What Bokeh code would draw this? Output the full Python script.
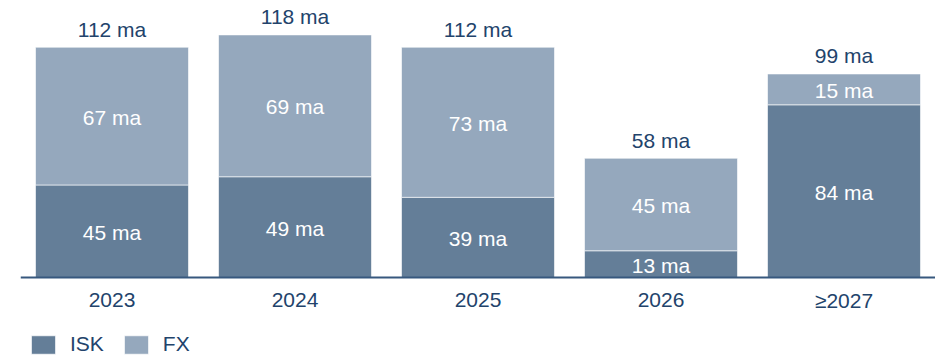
from bokeh.plotting import figure
from bokeh.models import ColumnDataSource, Range1d, Legend, LegendItem, Span
from bokeh.core.properties import value
from bokeh.embed import file_html
from bokeh.resources import INLINE

categories = ["2023", "2024", "2025", "2026", "≥2027"]
isk = [45, 49, 39, 13, 84]
fx = [67, 69, 73, 45, 15]
totals = [112, 118, 112, 58, 99]

ISK_COLOR = "#647e98"
FX_COLOR = "#95a8bd"
NAVY = "#22436b"
FONT = "Liberation Sans"
FS = "21px"

src = ColumnDataSource(dict(
    cat=categories, ISK=isk, FX=fx, total=totals,
    zero=[0] * len(categories),
    isk_mid=[v / 2 for v in isk],
    fx_mid=[a + b / 2 for a, b in zip(isk, fx)],
    isk_lab=[f"{v} ma" for v in isk],
    fx_lab=[f"{v} ma" for v in fx],
    tot_lab=[f"{v} ma" for v in totals],
))

p = figure(x_range=categories, width=935, height=355, output_backend="svg",
           toolbar_location=None, x_axis_location=None, y_axis_location=None,
           min_border_left=20, min_border_right=0,
           min_border_top=0, min_border_bottom=0)
p.x_range.range_padding = 0
p.y_range = Range1d(-37.94, 134.73)

r = p.vbar_stack(["ISK", "FX"], x="cat", width=0.836, source=src,
                 color=[ISK_COLOR, FX_COLOR], line_color="white", line_alpha=0.6)

for ycol, tcol in (("isk_mid", "isk_lab"), ("fx_mid", "fx_lab")):
    p.text(x="cat", y=ycol, text=tcol, source=src, text_color="white",
           text_font=value(FONT), text_font_size=FS, text_align="center",
           text_baseline="middle", y_offset=1)
p.text(x="cat", y="total", text="tot_lab", source=src, text_color=NAVY,
       text_font=value(FONT), text_font_size=FS, text_align="center",
       text_baseline="middle", y_offset=-18)
# category (axis) labels
p.text(x="cat", y="zero", text="cat", source=src, text_color=NAVY,
       text_font=value(FONT), text_font_size=FS, text_align="center",
       text_baseline="middle", y_offset=23)

p.add_layout(Span(location=0, dimension="width", line_color="#37587e",
                  line_width=2))

p.grid.visible = False
p.outline_line_color = None

legend = Legend(items=[LegendItem(label="ISK", renderers=[r[0]]),
                       LegendItem(label="FX", renderers=[r[1]])],
                location=(8, -1), orientation="horizontal",
                glyph_width=30, glyph_height=23, label_height=23,
                label_standoff=12, spacing=17, padding=0, margin=0,
                border_line_color=None, background_fill_alpha=0,
                label_text_font=FONT, label_text_font_size=FS,
                label_text_color=NAVY)
p.add_layout(legend, "center")

open("out.html", "w").write(file_html(p, INLINE))
